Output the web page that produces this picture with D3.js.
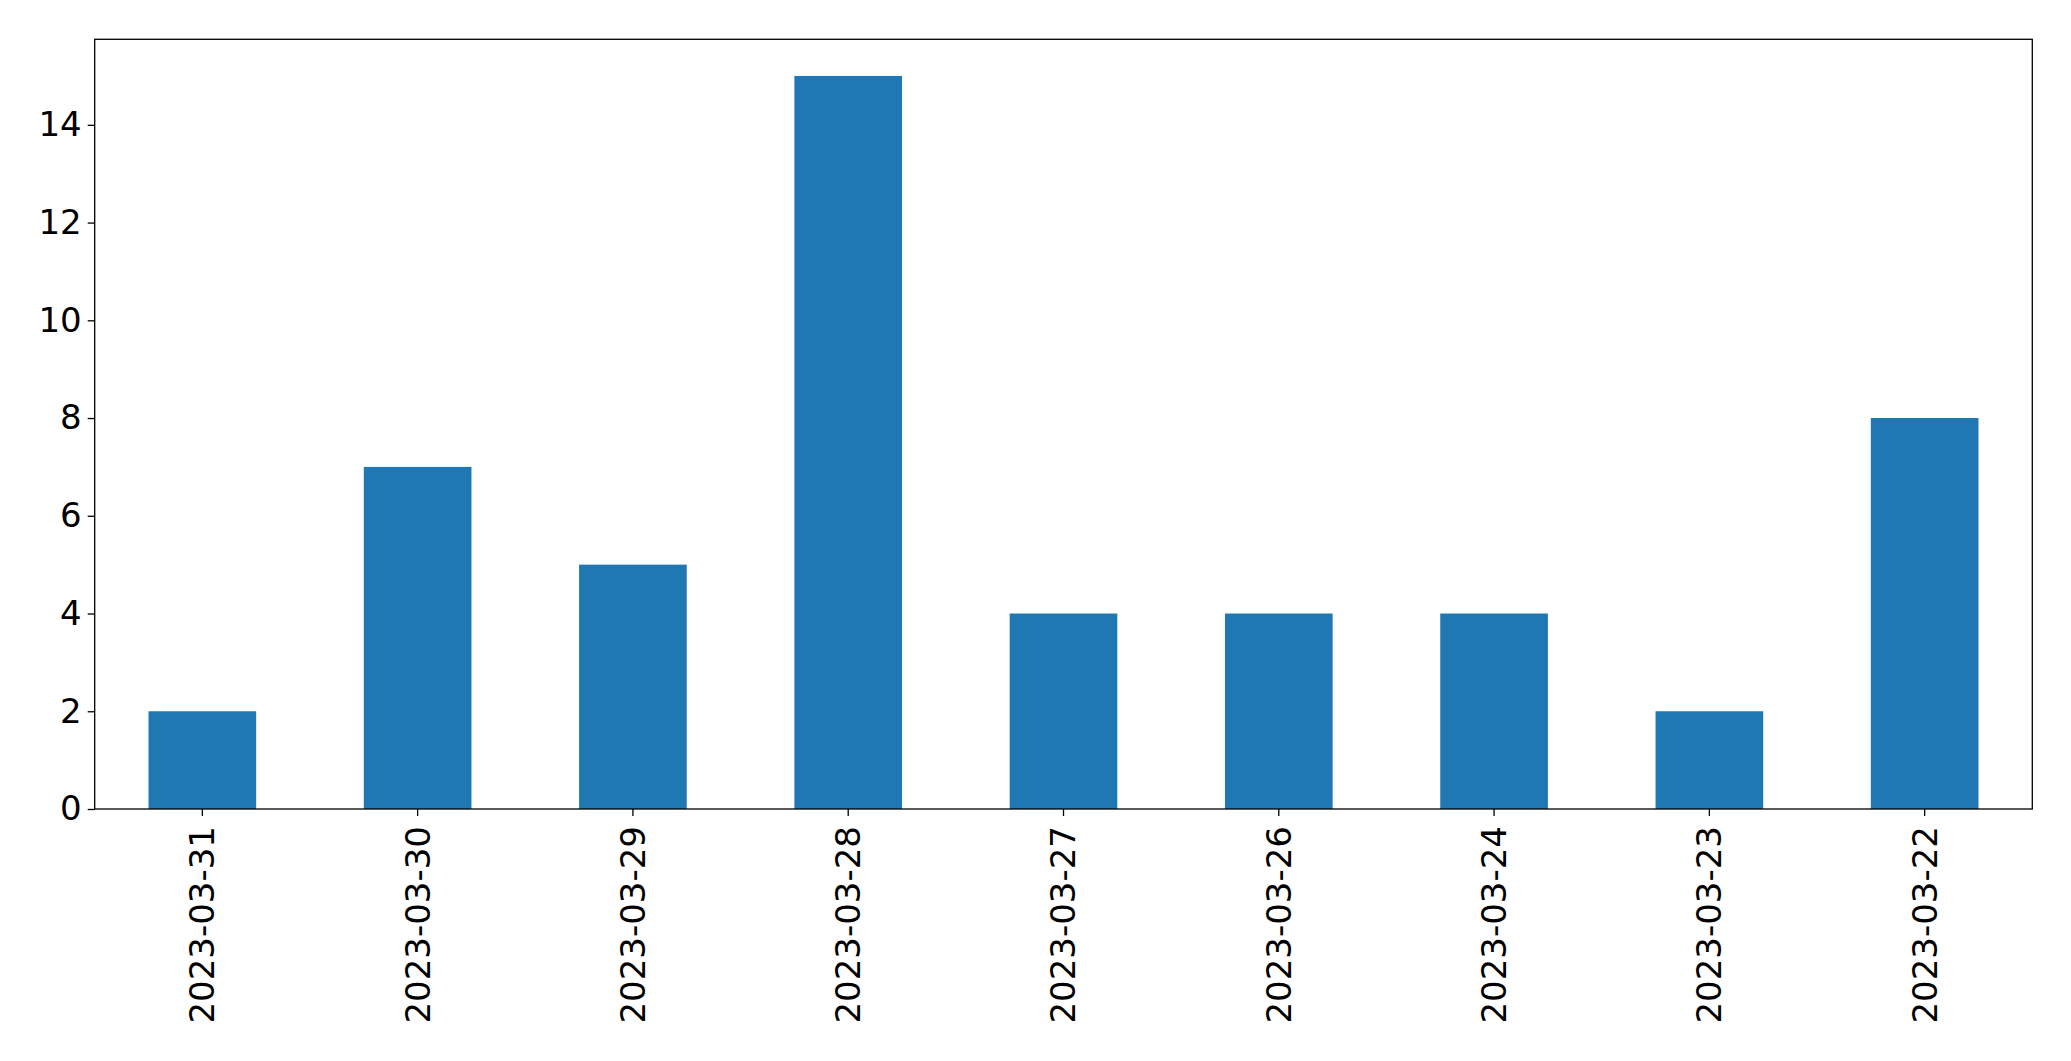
<!DOCTYPE html>
<html>
<head>
<meta charset="utf-8">
<script src="https://cdn.jsdelivr.net/npm/d3@7"></script>
<style>
  html, body { margin: 0; padding: 0; background: #fff; }
  svg { display: block; }
  text { font-family: "DejaVu Sans", sans-serif; }
</style>
</head>
<body>
<svg id="chart" width="2071" height="1061"></svg>
<script>
const categories = ["2023-03-31","2023-03-30","2023-03-29","2023-03-28","2023-03-27","2023-03-26","2023-03-24","2023-03-23","2023-03-22"];
const values = [2, 7, 5, 15, 4, 4, 4, 2, 8];
const yTicks = [0, 2, 4, 6, 8, 10, 12, 14];

const W = 2071, H = 1061;
const margin = { left: 94.7, right: W - 2032.3, top: 39.3, bottom: H - 809 };
const svg = d3.select("#chart");

const x = d3.scaleBand()
  .domain(categories)
  .range([margin.left, W - margin.right])
  .paddingInner(0.5)
  .paddingOuter(0.25);

const yMax = d3.max(values) * 1.05;
const y = d3.scaleLinear()
  .domain([0, yMax])
  .range([H - margin.bottom, margin.top]);

// bars
svg.append("g")
  .selectAll("rect")
  .data(values)
  .join("rect")
  .attr("x", (d, i) => x(categories[i]))
  .attr("width", x.bandwidth())
  .attr("y", d => y(d))
  .attr("height", d => y(0) - y(d))
  .attr("fill", "#1f77b4");

const fontSize = 34;

// y axis
const yAxis = d3.axisLeft(y).tickValues(yTicks).tickSize(7).tickPadding(6).tickFormat(d3.format("d"));
const gy = svg.append("g")
  .attr("transform", `translate(${margin.left},0)`)
  .call(yAxis);
gy.select(".domain").remove();
gy.selectAll(".tick line").attr("stroke", "#000").attr("stroke-width", 1.3);
gy.selectAll(".tick text").attr("font-size", fontSize).attr("fill", "#000")
  .attr("font-family", "'DejaVu Sans', sans-serif");

// x axis
const xAxis = d3.axisBottom(x).tickSize(7).tickPadding(9);
const gx = svg.append("g")
  .attr("transform", `translate(0,${H - margin.bottom})`)
  .call(xAxis);
gx.select(".domain").remove();
gx.selectAll(".tick line").attr("stroke", "#000").attr("stroke-width", 1.3);
gx.selectAll(".tick text")
  .attr("font-size", fontSize)
  .attr("fill", "#000")
  .attr("font-family", "'DejaVu Sans', sans-serif")
  .attr("text-anchor", "end")
  .attr("transform", "rotate(-90)")
  .attr("x", -17)
  .attr("y", 0)
  .attr("dy", "0.35em");

// frame
svg.append("rect")
  .attr("x", margin.left)
  .attr("y", margin.top)
  .attr("width", W - margin.right - margin.left)
  .attr("height", H - margin.bottom - margin.top)
  .attr("fill", "none")
  .attr("stroke", "#000")
  .attr("stroke-width", 1.3);
</script>
</body>
</html>
